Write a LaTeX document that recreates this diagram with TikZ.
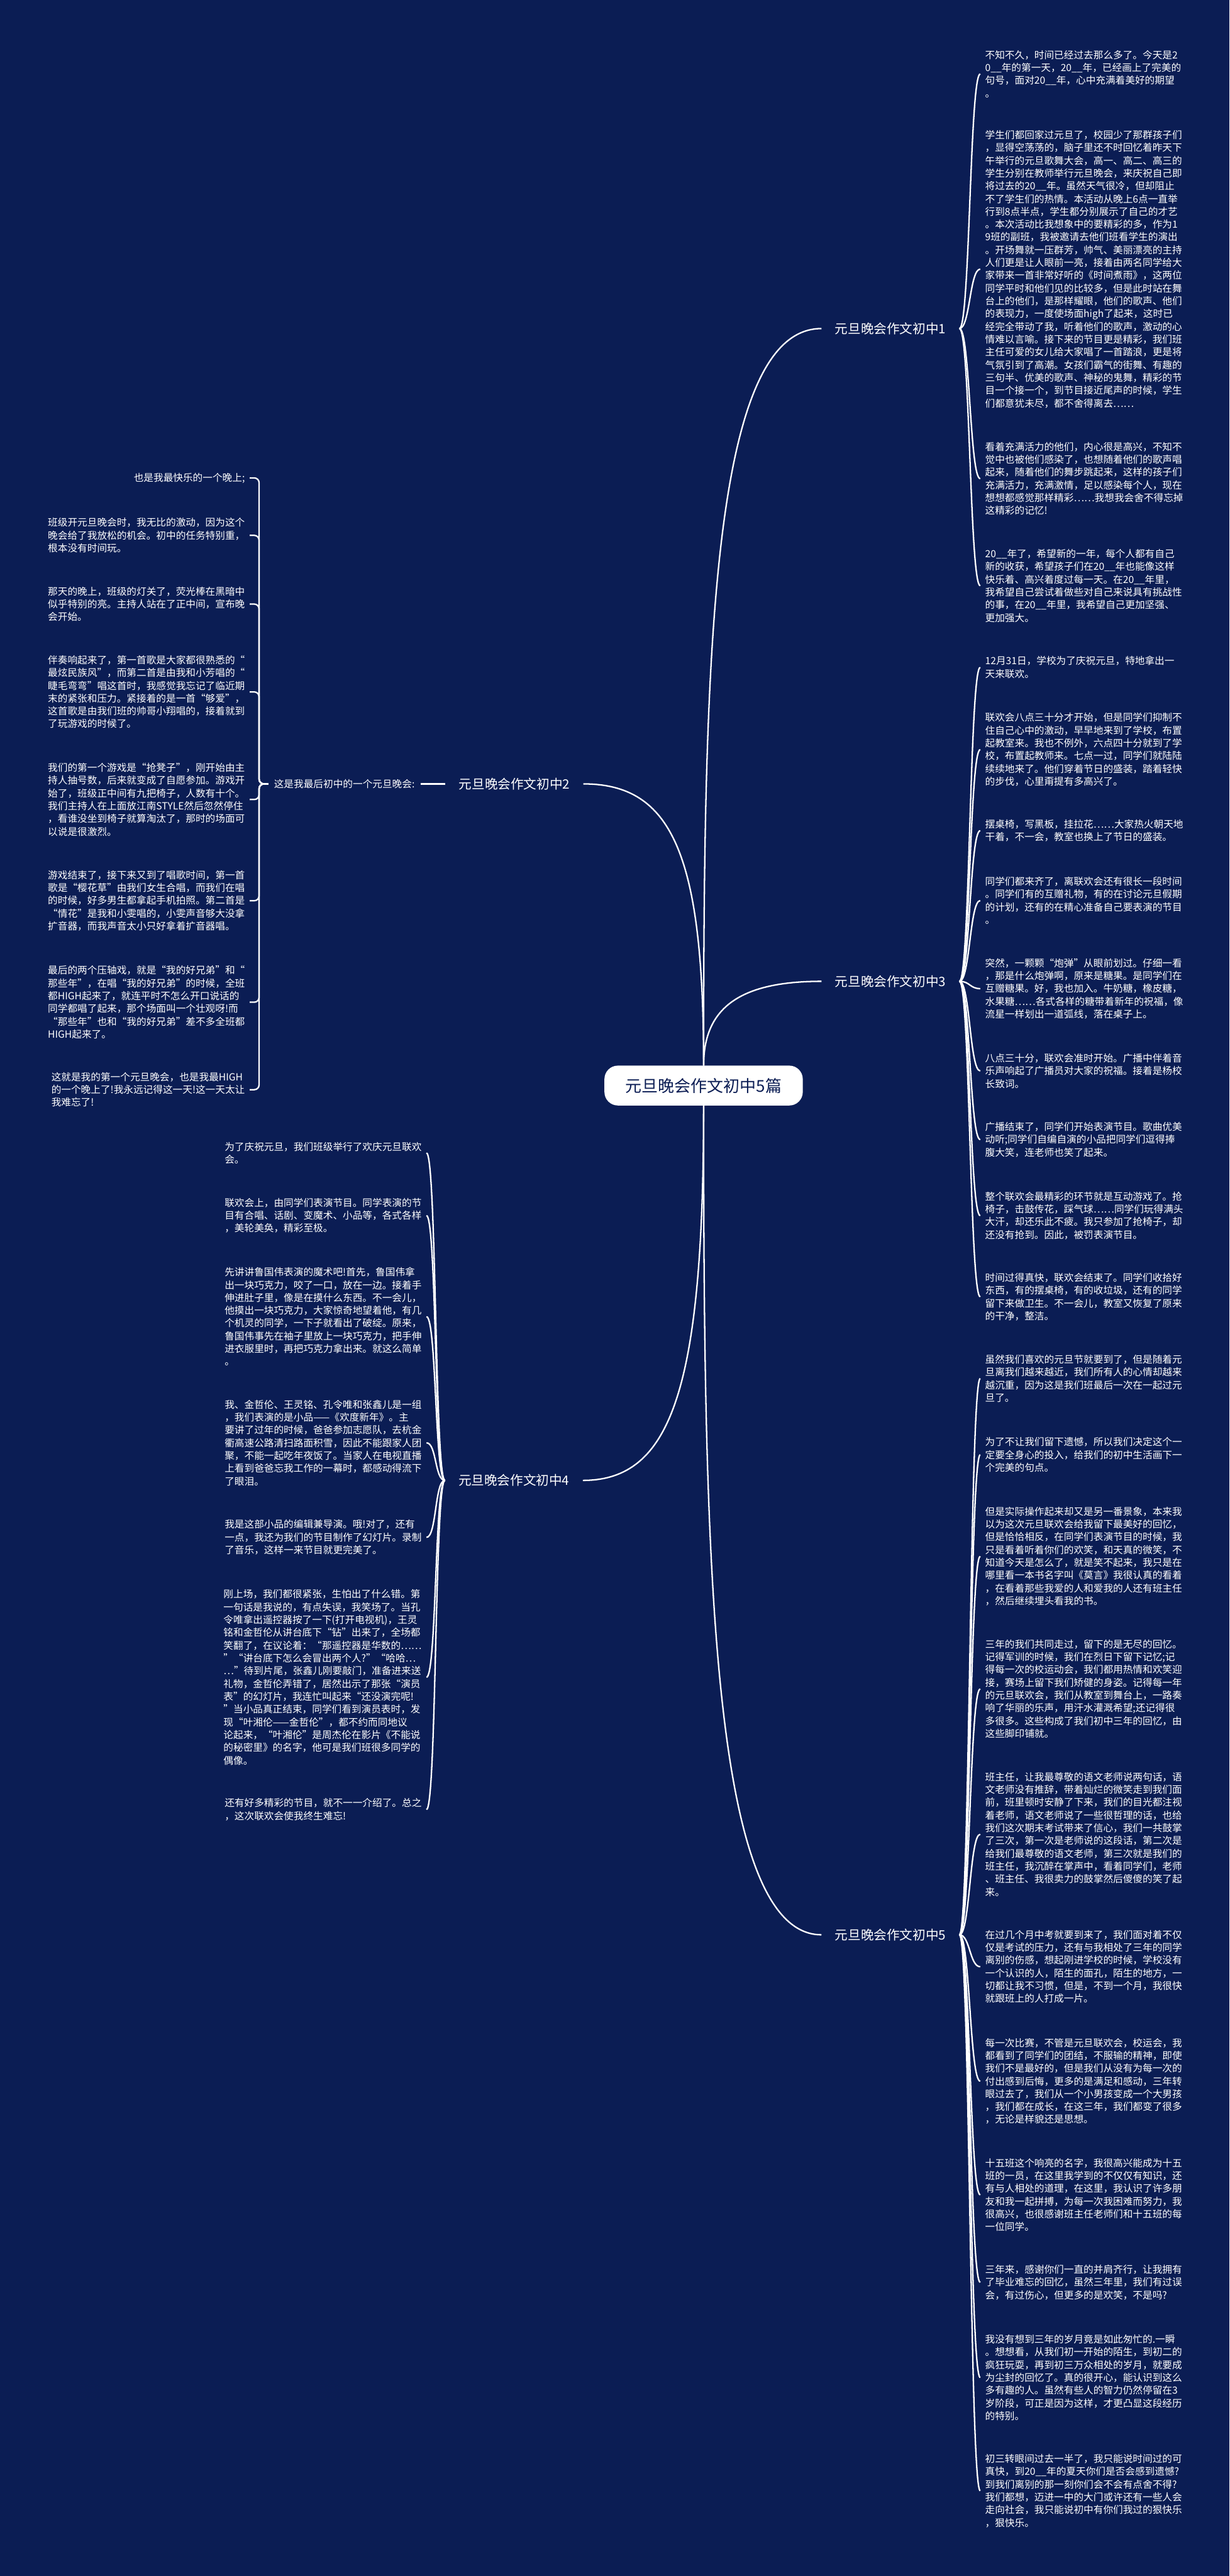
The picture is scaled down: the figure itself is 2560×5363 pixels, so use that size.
\documentclass[tikz,border=0pt]{standalone}
\usepackage{fontspec}
\setmainfont{Noto Sans CJK SC}
\definecolor{mynavy}{RGB}{11,29,84}

\begin{document}
\begin{tikzpicture}[
  x=1pt, y=-1pt,
  mylink/.style={draw=white, line width=3pt},
  myroot/.style={
    fill=white,
    text=mynavy,
    rounded corners=28pt,
    minimum width=413pt,
    minimum height=83pt,
    font=\fontsize{34}{40}\selectfont
    },
  mytopic/.style={text=white, inner xsep=28pt, font=\fontsize{27}{32}\selectfont},
  mynote/.style={text=white, inner xsep=12pt, font=\fontsize{20.5}{26.6}\selectfont},
  mytext/.style={
    text=white,
    align=left,
    inner xsep=10pt,
    font=\fontsize{20.5}{26.6}\selectfont
    }
]

\fill[mynavy] (0,0) rectangle (2560,5363);

\node[myroot] (root) at (1465,2260) {元旦晚会作文初中5篇};

\node[mytopic] (topic1) at (1854,684) {元旦晚会作文初中1};
\node[mytopic] (topic2) at (1071,1632) {元旦晚会作文初中2};
\node[mytopic] (topic3) at (1854,2043) {元旦晚会作文初中3};
\node[mytopic] (topic4) at (1070,3082) {元旦晚会作文初中4};
\node[mytopic] (topic5) at (1854,4028) {元旦晚会作文初中5};

\node[mynote] (note2) at (717,1632) {这是我最后初中的一个元旦晚会:};

% topic 1
\node[mytext,anchor=west] (t1p1) at (2041,153.9) {不知不久，时间已经过去那么多了。今天是2\\0\_\_年的第一天，20\_\_年，已经画上了完美的\\句号，面对20\_\_年，心中充满着美好的期望\\。};
\node[mytext,anchor=west] (t1p2) at (2041,560.3) {学生们都回家过元旦了，校园少了那群孩子们\\，显得空荡荡的，脑子里还不时回忆着昨天下\\午举行的元旦歌舞大会，高一、高二、高三的\\学生分别在教师举行元旦晚会，来庆祝自己即\\将过去的20\_\_年。虽然天气很冷，但却阻止\\不了学生们的热情。本活动从晚上6点一直举\\行到8点半点，学生都分别展示了自己的才艺\\。本次活动比我想象中的要精彩的多，作为1\\9班的副班，我被邀请去他们班看学生的演出\\。开场舞就一压群芳，帅气、美丽漂亮的主持\\人们更是让人眼前一亮，接着由两名同学给大\\家带来一首非常好听的《时间煮雨》，这两位\\同学平时和他们见的比较多，但是此时站在舞\\台上的他们，是那样耀眼，他们的歌声、他们\\的表现力，一度使场面high了起来，这时已\\经完全带动了我，听着他们的歌声，激动的心\\情难以言喻。接下来的节目更是精彩，我们班\\主任可爱的女儿给大家唱了一首踏浪，更是将\\气氛引到了高潮。女孩们霸气的街舞、有趣的\\三句半、优美的歌声、神秘的鬼舞，精彩的节\\目一个接一个，到节目接近尾声的时候，学生\\们都意犹未尽，都不舍得离去……};
\node[mytext,anchor=west] (t1p3) at (2041,996.5) {看着充满活力的他们，内心很是高兴，不知不\\觉中也被他们感染了，也想随着他们的歌声唱\\起来，随着他们的舞步跳起来，这样的孩子们\\充满活力，充满激情，足以感染每个人，现在\\想想都感觉那样精彩……我想我会舍不得忘掉\\这精彩的记忆!};
\node[mytext,anchor=west] (t1p4) at (2041,1219.5) {20\_\_年了，希望新的一年，每个人都有自己\\新的收获，希望孩子们在20\_\_年也能像这样\\快乐着、高兴着度过每一天。在20\_\_年里，\\我希望自己尝试着做些对自己来说具有挑战性\\的事，在20\_\_年里，我希望自己更加坚强、\\更加强大。};

% topic 2
\node[mytext,anchor=east] (t2p1) at (520,995) {也是我最快乐的一个晚上;};
\node[mytext,anchor=east] (t2p2) at (520,1114.6) {班级开元旦晚会时，我无比的激动，因为这个\\晚会给了我放松的机会。初中的任务特别重，\\根本没有时间玩。};
\node[mytext,anchor=east] (t2p3) at (520,1257.6) {那天的晚上，班级的灯关了，荧光棒在黑暗中\\似乎特别的亮。主持人站在了正中间，宣布晚\\会开始。};
\node[mytext,anchor=east] (t2p4) at (520,1440.5) {伴奏响起来了，第一首歌是大家都很熟悉的“\\最炫民族风”，而第二首是由我和小芳唱的“\\睫毛弯弯”唱这首时，我感觉我忘记了临近期\\末的紧张和压力。紧接着的是一首“够爱”，\\这首歌是由我们班的帅哥小翔唱的，接着就到\\了玩游戏的时候了。};
\node[mytext,anchor=east] (t2p5) at (520,1664.5) {我们的第一个游戏是“抢凳子”，刚开始由主\\持人抽号数，后来就变成了自愿参加。游戏开\\始了，班级正中间有九把椅子，人数有十个。\\我们主持人在上面放江南STYLE然后忽然停住\\，看谁没坐到椅子就算淘汰了，那时的场面可\\以说是很激烈。};
\node[mytext,anchor=east] (t2p6) at (520,1875.2) {游戏结束了，接下来又到了唱歌时间，第一首\\歌是“樱花草”由我们女生合唱，而我们在唱\\的时候，好多男生都拿起手机拍照。第二首是\\“情花”是我和小雯唱的，小雯声音够大没拿\\扩音器，而我声音太小只好拿着扩音器唱。};
\node[mytext,anchor=east] (t2p7) at (520,2086.5) {最后的两个压轴戏，就是“我的好兄弟”和“\\那些年”，在唱“我的好兄弟”的时候，全班\\都HIGH起来了，就连平时不怎么开口说话的\\同学都唱了起来，那个场面叫一个壮观呀!而\\“那些年”也和“我的好兄弟”差不多全班都\\HIGH起来了。};
\node[mytext,anchor=east] (t2p8) at (520,2268.6) {这就是我的第一个元旦晚会，也是我最HIGH\\的一个晚上了!我永远记得这一天!这一天太让\\我难忘了!};

% topic 3
\node[mytext,anchor=west] (t3p1) at (2041,1389.3) {12月31日，学校为了庆祝元旦，特地拿出一\\天来联欢。};
\node[mytext,anchor=west] (t3p2) at (2041,1560.5) {联欢会八点三十分才开始，但是同学们抑制不\\住自己心中的激动，早早地来到了学校，布置\\起教室来。我也不例外，六点四十分就到了学\\校，布置起教师来。七点一过，同学们就陆陆\\续续地来了。他们穿着节日的盛装，踏着轻快\\的步伐，心里甭提有多高兴了。};
\node[mytext,anchor=west] (t3p3) at (2041,1729.3) {摆桌椅，写黑板，挂拉花……大家热火朝天地\\干着，不一会，教室也换上了节日的盛装。};
\node[mytext,anchor=west] (t3p4) at (2041,1874.9) {同学们都来齐了，离联欢会还有很长一段时间\\。同学们有的互赠礼物，有的在讨论元旦假期\\的计划，还有的在精心准备自己要表演的节目\\。};
\node[mytext,anchor=west] (t3p5) at (2041,2058.2) {突然，一颗颗“炮弹”从眼前划过。仔细一看\\，那是什么炮弹啊，原来是糖果。是同学们在\\互赠糖果。好，我也加入。牛奶糖，橡皮糖，\\水果糖……各式各样的糖带着新年的祝福，像\\流星一样划出一道弧线，落在桌子上。};
\node[mytext,anchor=west] (t3p6) at (2041,2229.6) {八点三十分，联欢会准时开始。广播中伴着音\\乐声响起了广播员对大家的祝福。接着是杨校\\长致词。};
\node[mytext,anchor=west] (t3p7) at (2041,2372.6) {广播结束了，同学们开始表演节目。歌曲优美\\动听;同学们自编自演的小品把同学们逗得捧\\腹大笑，连老师也笑了起来。};
\node[mytext,anchor=west] (t3p8) at (2041,2530.9) {整个联欢会最精彩的环节就是互动游戏了。抢\\椅子，击鼓传花，踩气球……同学们玩得满头\\大汗，却还乐此不疲。我只参加了抢椅子，却\\还没有抢到。因此，被罚表演节目。};
\node[mytext,anchor=west] (t3p9) at (2041,2699.9) {时间过得真快，联欢会结束了。同学们收拾好\\东西，有的摆桌椅，有的收垃圾，还有的同学\\留下来做卫生。不一会儿，教室又恢复了原来\\的干净，整洁。};

% topic 4
\node[mytext,anchor=east] (t4p1) at (888,2400.3) {为了庆祝元旦，我们班级举行了欢庆元旦联欢\\会。};
\node[mytext,anchor=east] (t4p2) at (888,2530.6) {联欢会上，由同学们表演节目。同学表演的节\\目有合唱、话剧、变魔术、小品等，各式各样\\，美轮美奂，精彩至极。};
\node[mytext,anchor=east] (t4p3) at (888,2741.1) {先讲讲鲁国伟表演的魔术吧!首先，鲁国伟拿\\出一块巧克力，咬了一口，放在一边。接着手\\伸进肚子里，像是在摸什么东西。不一会儿，\\他摸出一块巧克力，大家惊奇地望着他，有几\\个机灵的同学，一下子就看出了破绽。原来，\\鲁国伟事先在袖子里放上一块巧克力，把手伸\\进衣服里时，再把巧克力拿出来。就这么简单\\。};
\node[mytext,anchor=east] (t4p4) at (888,3003.8) {我、金哲伦、王灵铭、孔令唯和张鑫儿是一组\\，我们表演的是小品——《欢度新年》。主\\要讲了过年的时候，爸爸参加志愿队，去杭金\\衢高速公路清扫路面积雪，因此不能跟家人团\\聚，不能一起吃年夜饭了。当家人在电视直播\\上看到爸爸忘我工作的一幕时，都感动得流下\\了眼泪。};
\node[mytext,anchor=east] (t4p5) at (888,3200.6) {我是这部小品的编辑兼导演。哦!对了，还有\\一点，我还为我们的节目制作了幻灯片。录制\\了音乐，这样一来节目就更完美了。};
\node[mytext,anchor=east] (t4p6) at (888,3491.9) {刚上场，我们都很紧张，生怕出了什么错。第\\一句话是我说的，有点失误，我笑场了。当孔\\令唯拿出遥控器按了一下(打开电视机)，王灵\\铭和金哲伦从讲台底下“钻”出来了，全场都\\笑翻了，在议论着：“那遥控器是华数的……\\”“讲台底下怎么会冒出两个人?”“哈哈…\\…”待到片尾，张鑫儿刚要敲门，准备进来送\\礼物，金哲伦弄错了，居然出示了那张“演员\\表”的幻灯片，我连忙叫起来“还没演完呢!\\”当小品真正结束，同学们看到演员表时，发\\现“叶湘伦——金哲伦”，都不约而同地议\\论起来，“叶湘伦”是周杰伦在影片《不能说\\的秘密里》的名字，他可是我们班很多同学的\\偶像。};
\node[mytext,anchor=east] (t4p7) at (888,3767.3) {还有好多精彩的节目，就不一一介绍了。总之\\，这次联欢会使我终生难忘!};

% topic 5
\node[mytext,anchor=west] (t5p1) at (2041,2869.9) {虽然我们喜欢的元旦节就要到了，但是随着元\\旦离我们越来越近，我们所有人的心情却越来\\越沉重，因为这是我们班最后一次在一起过元\\旦了。};
\node[mytext,anchor=west] (t5p2) at (2041,3028.6) {为了不让我们留下遗憾，所以我们决定这个一\\定要全身心的投入，给我们的初中生活画下一\\个完美的句点。};
\node[mytext,anchor=west] (t5p3) at (2041,3240.1) {但是实际操作起来却又是另一番景象，本来我\\以为这次元旦联欢会给我留下最美好的回忆，\\但是恰恰相反，在同学们表演节目的时候，我\\只是看着听着你们的欢笑，和天真的微笑，不\\知道今天是怎么了，就是笑不起来，我只是在\\哪里看一本书名字叫《莫言》我很认真的看着\\，在看着那些我爱的人和爱我的人还有班主任\\，然后继续埋头看我的书。};
\node[mytext,anchor=west] (t5p4) at (2041,3516.1) {三年的我们共同走过，留下的是无尽的回忆。\\记得军训的时候，我们在烈日下留下记忆;记\\得每一次的校运动会，我们都用热情和欢笑迎\\接，赛场上留下我们矫健的身姿。记得每一年\\的元旦联欢会，我们从教室到舞台上，一路奏\\响了华丽的乐声，用汗水灌溉希望;还记得很\\多很多。这些构成了我们初中三年的回忆，由\\这些脚印铺就。};
\node[mytext,anchor=west] (t5p5) at (2041,3818.7) {班主任，让我最尊敬的语文老师说两句话，语\\文老师没有推辞，带着灿烂的微笑走到我们面\\前，班里顿时安静了下来，我们的目光都注视\\着老师，语文老师说了一些很哲理的话，也给\\我们这次期末考试带来了信心，我们一共鼓掌\\了三次，第一次是老师说的这段话，第二次是\\给我们最尊敬的语文老师，第三次就是我们的\\班主任，我沉醉在掌声中，看着同学们，老师\\、班主任、我很卖力的鼓掌然后傻傻的笑了起\\来。};
\node[mytext,anchor=west] (t5p6) at (2041,4094.5) {在过几个月中考就要到来了，我们面对着不仅\\仅是考试的压力，还有与我相处了三年的同学\\离别的伤感，想起刚进学校的时候，学校没有\\一个认识的人，陌生的面孔，陌生的地方，一\\切都让我不习惯，但是，不到一个月，我很快\\就跟班上的人打成一片。};
\node[mytext,anchor=west] (t5p7) at (2041,4332.8) {每一次比赛，不管是元旦联欢会，校运会，我\\都看到了同学们的团结，不服输的精神，即使\\我们不是最好的，但是我们从没有为每一次的\\付出感到后悔，更多的是满足和感动，三年转\\眼过去了，我们从一个小男孩变成一个大男孩\\，我们都在成长，在这三年，我们都变了很多\\，无论是样貌还是思想。};
\node[mytext,anchor=west] (t5p8) at (2041,4569.5) {十五班这个响亮的名字，我很高兴能成为十五\\班的一员，在这里我学到的不仅仅有知识，还\\有与人相处的道理，在这里，我认识了许多朋\\友和我一起拼搏，为每一次我困难而努力，我\\很高兴，也很感谢班主任老师们和十五班的每\\一位同学。};
\node[mytext,anchor=west] (t5p9) at (2041,4751.6) {三年来，感谢你们一直的并肩齐行，让我拥有\\了毕业难忘的回忆，虽然三年里，我们有过误\\会，有过伤心，但更多的是欢笑，不是吗?};
\node[mytext,anchor=west] (t5p10) at (2041,4949.8) {我没有想到三年的岁月竟是如此匆忙的.一瞬\\。想想看，从我们初一开始的陌生，到初二的\\疯狂玩耍，再到初三万众相处的岁月，就要成\\为尘封的回忆了。真的很开心，能认识到这么\\多有趣的人。虽然有些人的智力仍然停留在3\\岁阶段，可正是因为这样，才更凸显这段经历\\的特别。};
\node[mytext,anchor=west] (t5p11) at (2041,5185.5) {初三转眼间过去一半了，我只能说时间过的可\\真快，到20\_\_年的夏天你们是否会感到遗憾?\\到我们离别的那一刻你们会不会有点舍不得?\\我们都想，迈进一中的大门或许还有一些人会\\走向社会，我只能说初中有你们我过的狠快乐\\，狠快乐。};

% links from the root
\draw[mylink] (root.north) .. controls +(0,-850) and +(-230,0) .. (topic1.west);
\draw[mylink] (root.north) .. controls +(0,-440) and +(184,0) .. (topic2.east);
\draw[mylink] (root.north) .. controls +(0,-120) and +(-170,0) .. (topic3.west);
\draw[mylink] (root.south) .. controls +(0,590) and +(184,0) .. (topic4.east);
\draw[mylink] (root.south) .. controls +(0,950) and +(-230,0) .. (topic5.west);

% brackets
\draw[mylink] (note2.east) -- (topic2.west);
\foreach \c in {t2p1,t2p2,t2p3,t2p4,t2p5,t2p6,t2p7,t2p8}
  \draw[mylink, rounded corners=10pt] (note2.west) -- ++(-19,0) |- (\c.east);
\foreach \c in {t1p1,t1p2,t1p3,t1p4}
  \draw[mylink] (topic1.east) .. controls +(22,0) and +(-22,0) .. (\c.west);
\foreach \c in {t3p1,t3p2,t3p3,t3p4,t3p5,t3p6,t3p7,t3p8,t3p9}
  \draw[mylink] (topic3.east) .. controls +(22,0) and +(-22,0) .. (\c.west);
\foreach \c in {t4p1,t4p2,t4p3,t4p4,t4p5,t4p6,t4p7}
  \draw[mylink] (topic4.west) .. controls +(-21,0) and +(21,0) .. (\c.east);
\foreach \c in {t5p1,t5p2,t5p3,t5p4,t5p5,t5p6,t5p7,t5p8,t5p9,t5p10,t5p11}
  \draw[mylink] (topic5.east) .. controls +(22,0) and +(-22,0) .. (\c.west);

\end{tikzpicture}
\end{document}
